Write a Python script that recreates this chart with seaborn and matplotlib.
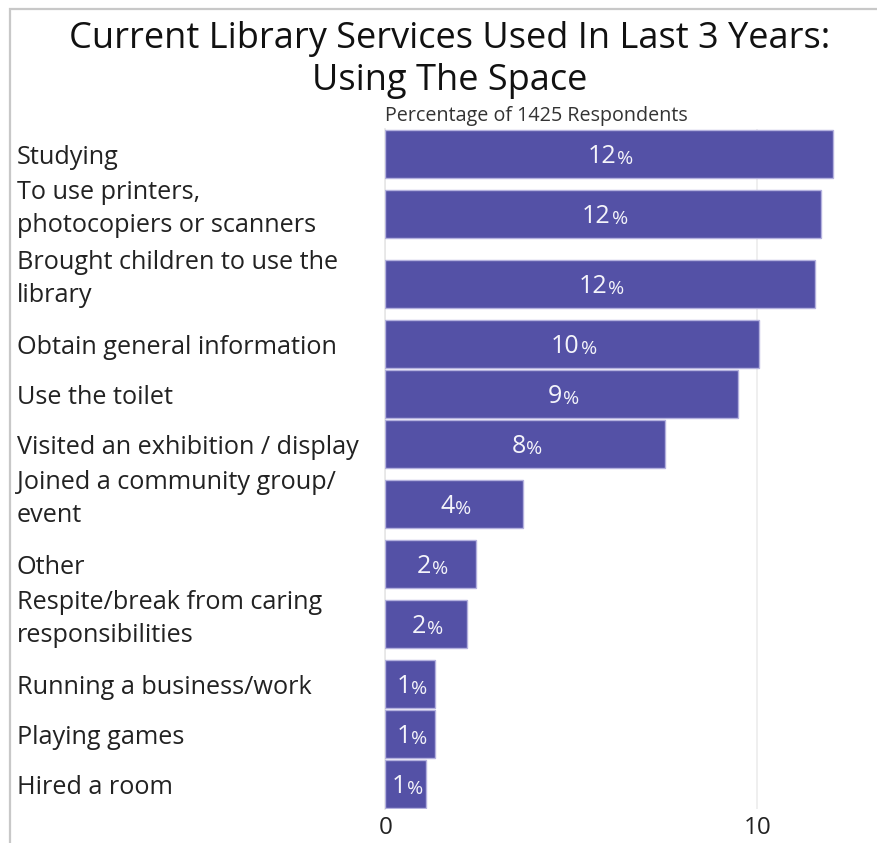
import matplotlib
matplotlib.use("Agg")
import matplotlib.pyplot as plt
from matplotlib.patches import Rectangle
from matplotlib.transforms import blended_transform_factory, ScaledTranslation
import numpy as np
import pandas as pd
import seaborn as sns

# Survey answers, already sorted from most to least used
services = [
    "Studying",
    "To use printers,\nphotocopiers or scanners",
    "Brought children to use the\nlibrary",
    "Obtain general information",
    "Use the toilet",
    "Visited an exhibition / display",
    "Joined a community group/\nevent",
    "Other",
    "Respite/break from caring\nresponsibilities",
    "Running a business/work",
    "Playing games",
    "Hired a room",
]
percentages = [12.03, 11.72, 11.54, 10.05, 9.47, 7.52, 3.70, 2.42, 2.18, 1.34, 1.34, 1.10]
x_ticks = [0, 10]

title = "Current Library Services Used In Last 3 Years:\nUsing The Space"
subtitle = "Percentage of 1425 Respondents"

BAR_COLOR = "#5451a6"
EDGE_COLOR = "#b4b1de"
FONT = ["Open Sans", "DejaVu Sans"]

sns.set_style("white")
plt.rcParams["font.family"] = FONT

# Rows whose label wraps onto two lines get a taller slot
row_height = np.array([1.0 + 0.4 * s.count("\n") for s in services])
row_center = np.cumsum(row_height) - row_height / 2
total = row_height.sum()

df = pd.DataFrame({"service": services, "pct": percentages, "pos": row_center})

W, H = 878, 843
fig = plt.figure(figsize=(W / 100, H / 100), dpi=100)

# thin grey frame along the top and left of the canvas
fig.patches.append(Rectangle((10 / W, -0.1), 1.2, (H - 9) / H + 0.1,
                             transform=fig.transFigure, fill=False,
                             edgecolor="#c8c8c8", linewidth=1.6, zorder=0))

left, right, top, bottom = 385.5, 869, 129, 809
ax = fig.add_axes([left / W, 1 - bottom / H, (right - left) / W, (bottom - top) / H])

sns.barplot(data=df, x="pct", y="pos", orient="h", native_scale=True,
            color=BAR_COLOR, saturation=1, width=0.96,
            edgecolor=EDGE_COLOR, linewidth=1.0, ax=ax, zorder=3)

ax.set_xlim(0, 13)
ax.set_ylim(total, 0)
ax.set_xticks(x_ticks)
ax.set_xticklabels([str(t) for t in x_ticks], fontsize=17.5, color="#222222")
ax.tick_params(axis="x", length=0, pad=5)
ax.set_yticks(row_center)
ax.set_yticklabels([])
ax.tick_params(axis="y", length=0)
ax.set_xlabel("")
ax.set_ylabel("")

# category names, left aligned near the canvas edge; wrapped names sit a bit higher
label_trans = blended_transform_factory(fig.transFigure, ax.transData)
for name, p in zip(services, row_center):
    shift = 5 if "\n" in name else -4
    tr = label_trans + ScaledTranslation(0, shift / 100, fig.dpi_scale_trans)
    ax.text(17 / W, p, name, transform=tr, ha="left", va="center",
            fontsize=18.2, color="#222222", linespacing=1.4, clip_on=False)

ax.grid(axis="x", color="#ececec", linewidth=1.2, zorder=0)
for side in ["top", "right", "bottom"]:
    ax.spines[side].set_visible(False)
ax.spines["left"].set_color("#e6e6e6")
ax.spines["left"].set_linewidth(1.2)

# value labels centred in each bar, with a smaller percent sign
for v, p in zip(percentages, row_center):
    num = ax.annotate(str(int(v + 0.5)), xy=(v / 2, p), xytext=(-5, -1.5),
                      textcoords="offset points", ha="center", va="center",
                      fontsize=18, color="#f4f4fa", zorder=5)
    ax.annotate("%", xy=(1, 0), xycoords=num, xytext=(0.6, 0.3),
                textcoords="offset points", ha="left", va="bottom",
                fontsize=14, color="#f4f4fa", zorder=5)

ax.text(0, 1.004, subtitle, transform=ax.transAxes, ha="left", va="bottom",
        fontsize=14.2, color="#333333")

fig.text(450 / W, 1 - 60 / H, title, ha="center", va="center",
         fontsize=26, color="#111111", linespacing=1.2)

fig.savefig("out.png", dpi=100)
